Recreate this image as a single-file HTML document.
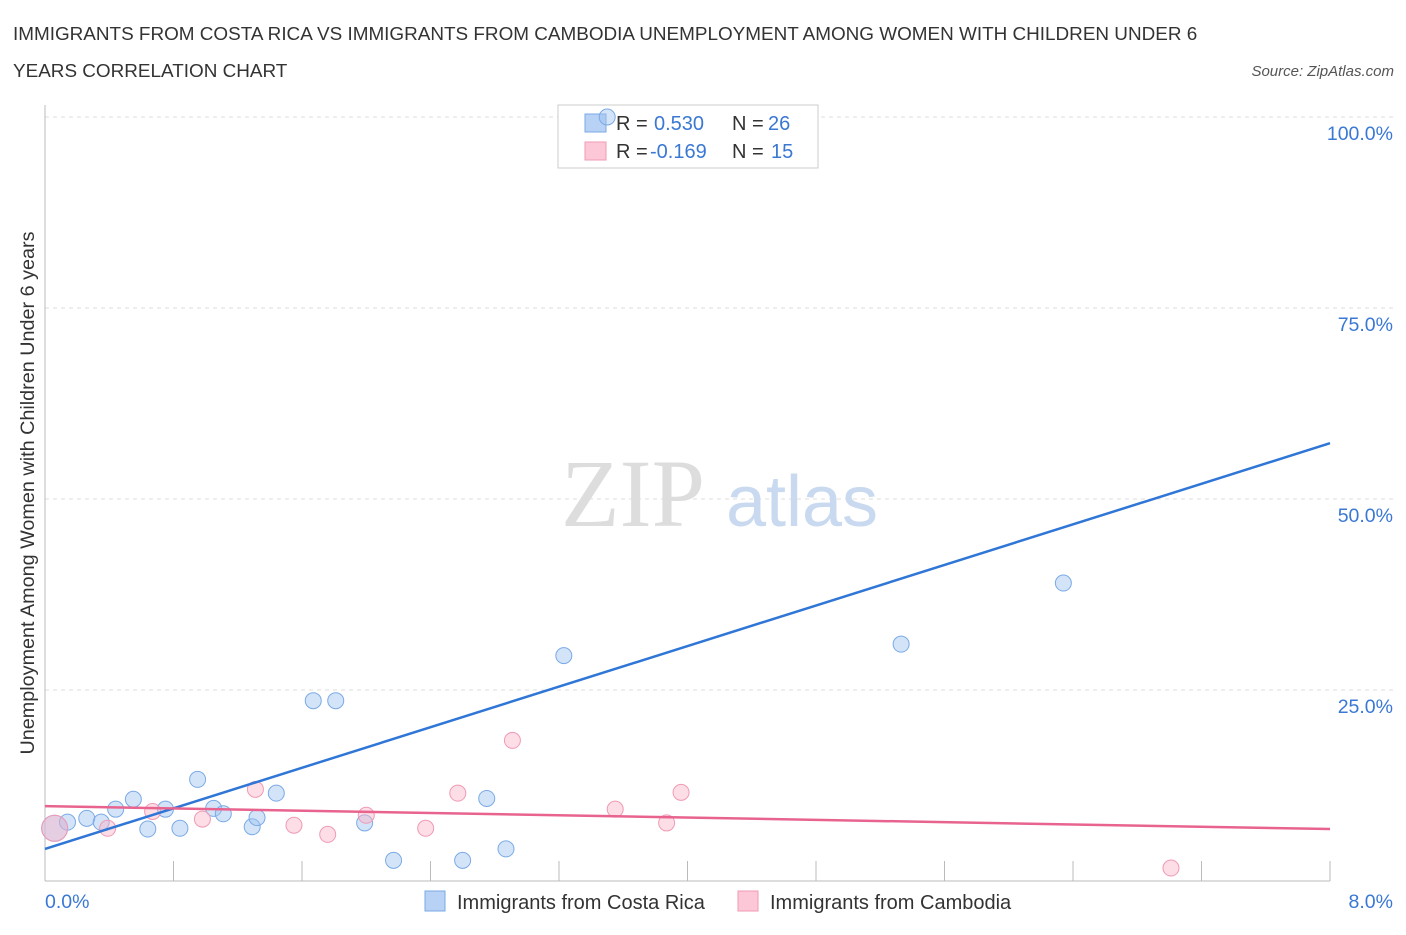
<!DOCTYPE html>
<html><head><meta charset="utf-8"><style>
body{margin:0;background:#fff;font-family:"Liberation Sans",sans-serif;}
</style></head><body>
<svg width="1406" height="930" xmlns="http://www.w3.org/2000/svg">
<text x="13" y="40" font-size="18.9" fill="#333">IMMIGRANTS FROM COSTA RICA VS IMMIGRANTS FROM CAMBODIA UNEMPLOYMENT AMONG WOMEN WITH CHILDREN UNDER 6</text>
<text x="13" y="77" font-size="18.9" fill="#333">YEARS CORRELATION CHART</text>
<text x="1394" y="76" font-size="15" fill="#555" font-style="italic" text-anchor="end">Source: ZipAtlas.com</text>
<g id="grid"></g>
<text x="633" y="526" font-size="96" fill="#ddd" font-family="Liberation Serif,serif" text-anchor="middle">ZIP</text>
<text x="802" y="526" font-size="72" fill="#c8d9f0" text-anchor="middle">atlas</text>
<g>
<rect x="558" y="105" width="260" height="63" fill="#fff" stroke="#ccc"/>
<rect x="585" y="114" width="21" height="18" fill="#b8d2f5" stroke="#7aaae6"/>
<rect x="585" y="142" width="21" height="18" fill="#fcc8d8" stroke="#f09ab5"/>
<text x="616" y="130" font-size="20" fill="#333">R = <tspan x="654" fill="#3a78d4">0.530</tspan><tspan x="732">N = </tspan><tspan x="768" fill="#3a78d4">26</tspan></text>
<text x="616" y="158" font-size="20" fill="#333">R = <tspan x="650" fill="#3a78d4">-0.169</tspan><tspan x="732">N = </tspan><tspan x="771" fill="#3a78d4">15</tspan></text>
</g>
<g id="axes"></g>
<g id="marks"></g>
<text transform="translate(34,493) rotate(-90)" font-size="19.8" fill="#333" text-anchor="middle">Unemployment Among Women with Children Under 6 years</text>
<text x="45" y="908" font-size="19.5" fill="#3a78d4">0.0%</text>
<text x="1393" y="908" font-size="19.5" fill="#3a78d4" text-anchor="end">8.0%</text>
<g>
<rect x="425" y="891" width="20" height="20" fill="#b8d2f5" stroke="#7aaae6"/>
<text x="457" y="909" font-size="20" fill="#333">Immigrants from Costa Rica</text>
<rect x="738" y="891" width="20" height="20" fill="#fcc8d8" stroke="#f09ab5"/>
<text x="770" y="909" font-size="20" fill="#333">Immigrants from Cambodia</text>
</g>
</svg>
<script>
const blueX=[0.06,0.14,0.26,0.35,0.44,0.55,0.64,0.75,0.84,0.95,1.05,1.11,1.29,1.32,1.44,1.67,1.81,1.99,2.17,2.60,2.75,2.87,3.23,3.50,5.33,6.34];
const blueY=[6.9,7.7,8.2,7.7,9.4,10.7,6.8,9.4,6.9,13.3,9.5,8.8,7.1,8.3,11.5,23.6,23.6,7.6,2.7,2.7,10.8,4.2,29.5,100,31.0,39.0];
const pinkX=[0.06,0.39,0.67,0.98,1.31,1.55,1.76,2.00,2.37,2.57,2.91,3.55,3.87,3.96,7.01];
const pinkY=[6.9,6.9,9.1,8.1,12.0,7.3,6.1,8.6,6.9,11.5,18.4,9.4,7.6,11.6,1.7];
const blueLine=[0,4.2,8,57.3];
const pinkLine=[0,9.8,8,6.8];
const yTicks=[25,50,75,100];
const yTickLabels=["25.0%","50.0%","75.0%","100.0%"];
const xTicks=[0,0.8,1.6,2.4,3.2,4.0,4.8,5.6,6.4,7.2,8.0];
const X=v=>45+v/8*1285, Y=v=>881-v/100*764;
const NS="http://www.w3.org/2000/svg";
function mk(p,t,a){const e=document.createElementNS(NS,t);for(const k in a)e.setAttribute(k,a[k]);document.getElementById(p).appendChild(e);return e;}
yTicks.forEach((t,i)=>{
 const l=mk('grid','line',{x1:45,x2:1395,y1:Y(t),y2:Y(t),stroke:'#ddd','stroke-dasharray':'4,4'});
 
 
 const tx=mk('grid','text',{x:1393,y:Y(t)+23,'font-size':19.5,fill:'#3a78d4','text-anchor':'end'});
 tx.textContent=yTickLabels[i];
 
 
});
const ax=mk('axes','line',{x1:45,x2:1330,y1:881,y2:881,stroke:'#bbb'});


const ay=mk('axes','line',{x1:45,x2:45,y1:105,y2:881,stroke:'#bbb'});


xTicks.forEach(t=>{
 const l=mk('axes','line',{x1:X(t),x2:X(t),y1:861,y2:881,stroke:'#bbb'});
 
 
});
blueX.forEach((x,i)=>{
 const c=mk('marks','circle',{cx:X(x),cy:Y(blueY[i]),r:i==0?13:8,fill:'rgba(160,195,240,0.45)',stroke:'#7aaae6','stroke-width':1});
 
 
});
pinkX.forEach((x,i)=>{
 const c=mk('marks','circle',{cx:X(x),cy:Y(pinkY[i]),r:i==0?13:8,fill:'rgba(250,180,200,0.45)',stroke:'#f09ab5','stroke-width':1});
 
 
});
const bl=mk('marks','line',{x1:X(blueLine[0]),y1:Y(blueLine[1]),x2:X(blueLine[2]),y2:Y(blueLine[3]),stroke:'#2f76d6','stroke-width':2.5});


const pl=mk('marks','line',{x1:X(pinkLine[0]),y1:Y(pinkLine[1]),x2:X(pinkLine[2]),y2:Y(pinkLine[3]),stroke:'#e8648f','stroke-width':2.5});


</script>
</body></html>
